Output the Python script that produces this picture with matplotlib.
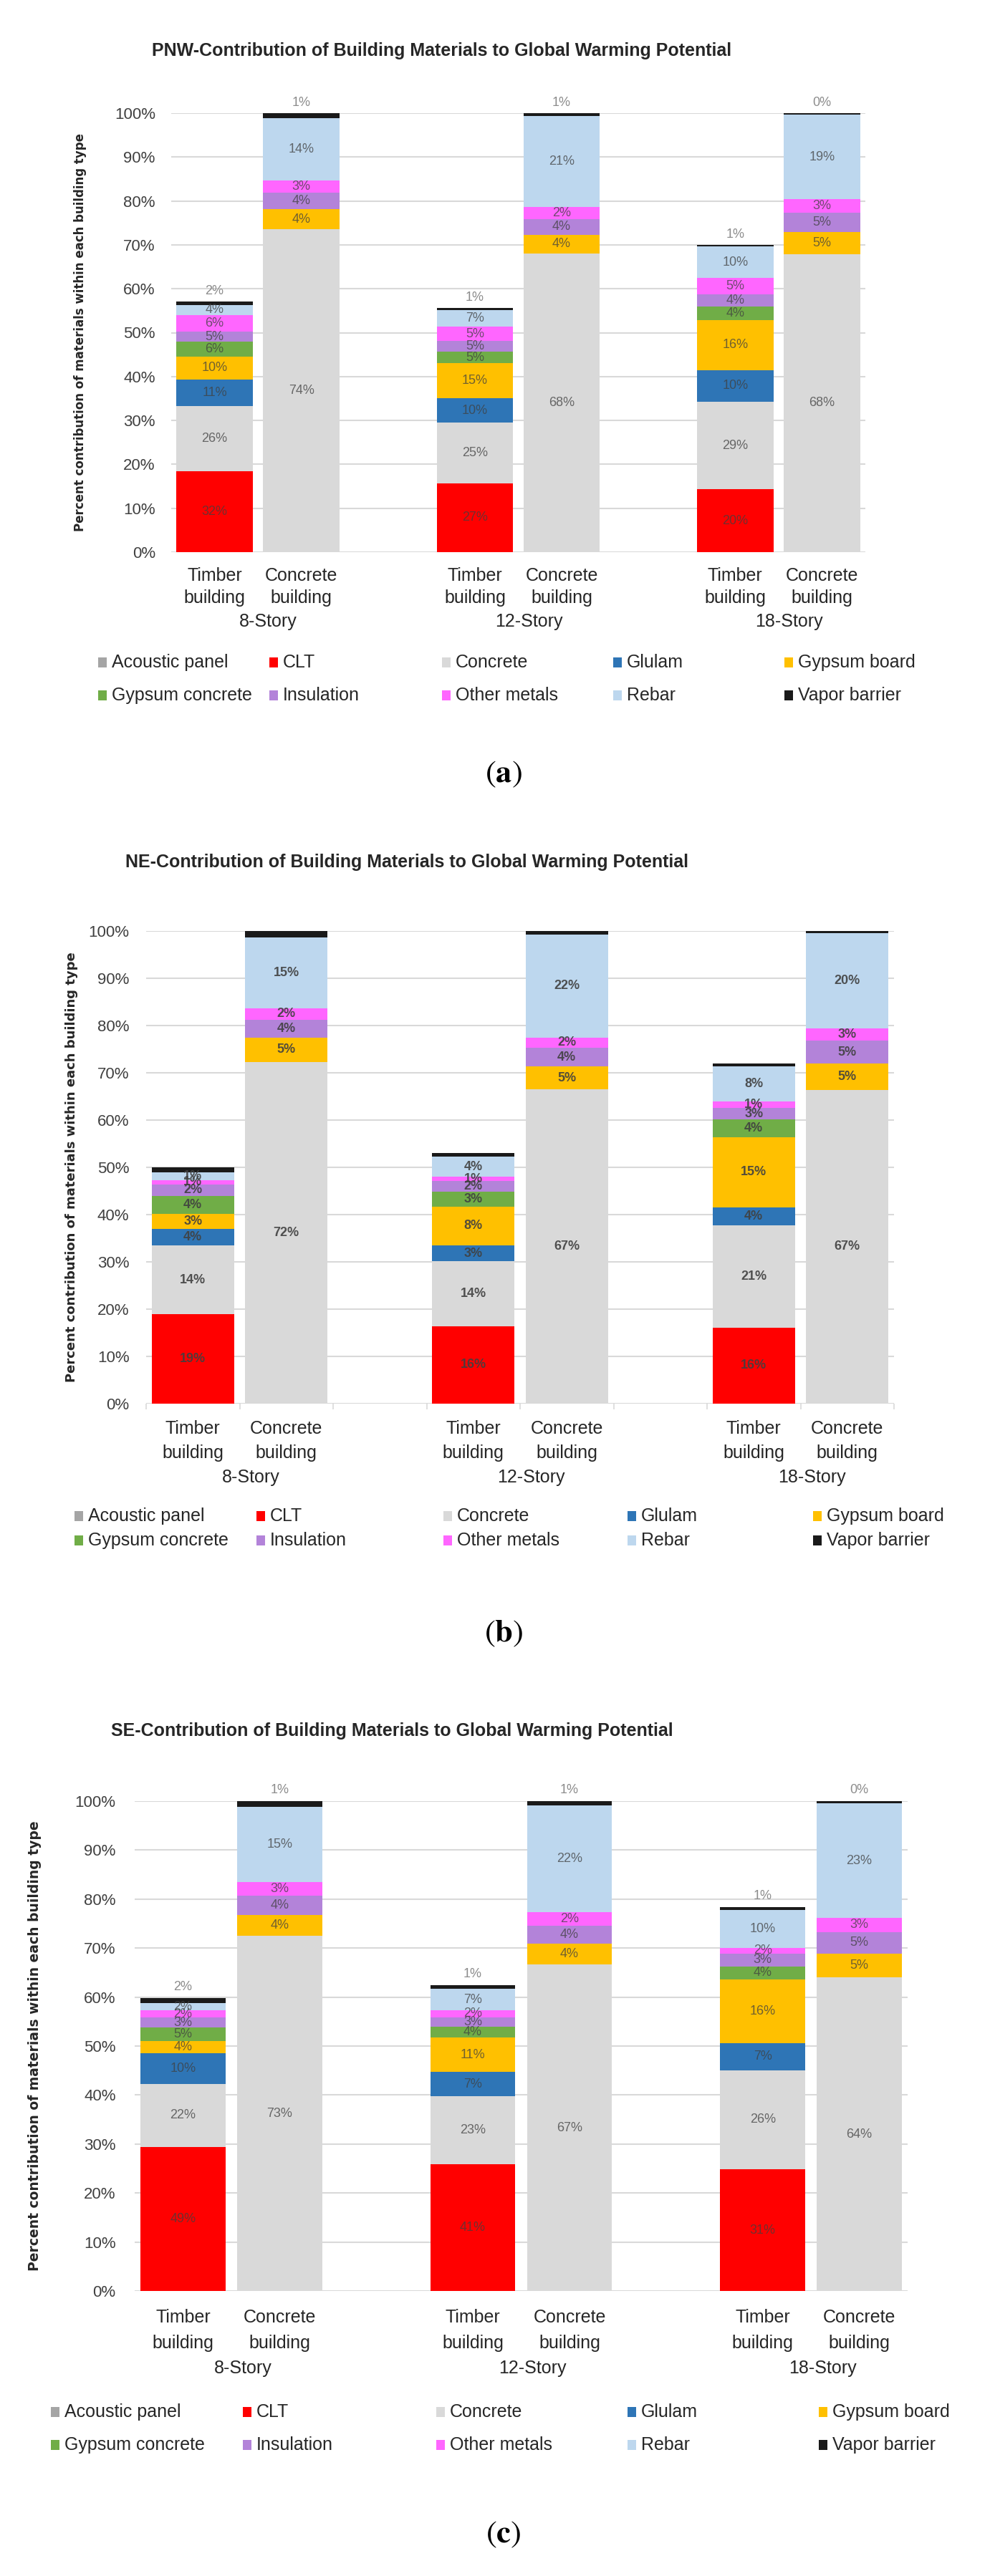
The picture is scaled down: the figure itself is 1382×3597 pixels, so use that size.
import matplotlib
matplotlib.use('Agg')
import matplotlib.pyplot as plt
import matplotlib.transforms as mtransforms
from matplotlib.patches import Rectangle

plt.rcParams['font.family'] = ['Liberation Sans', 'DejaVu Sans']
plt.rcParams['mathtext.fontset'] = 'stix'

W, H = 1382, 3597

materials = ['Acoustic panel', 'CLT', 'Concrete', 'Glulam', 'Gypsum board',
             'Gypsum concrete', 'Insulation', 'Other metals', 'Rebar', 'Vapor barrier']
colors = ['#a5a5a5', '#ff0000', '#d9d9d9', '#2e75b6', '#ffc000',
          '#70ad47', '#b383d9', '#ff66ff', '#bdd7ee', '#1a1a1a']
building_types = ['Timber', 'Concrete'] * 3
stories = ['8-Story', '12-Story', '18-Story']
x_pos = [0, 1, 3, 4, 6, 7]

# bar heights in % (columns: T8, C8, T12, C12, T18, C18), rows follow materials
pnw_values = [
    [0, 0, 0, 0, 0, 0],
    [18.4, 0, 15.7, 0, 14.3, 0],
    [14.8, 73.5, 13.8, 68.1, 19.9, 67.9],
    [6.1, 0, 5.6, 0, 7.3, 0],
    [5.3, 4.6, 8.0, 4.2, 11.4, 5.0],
    [3.3, 0, 2.5, 0, 3.0, 0],
    [2.4, 3.8, 2.5, 3.6, 2.8, 4.4],
    [3.7, 2.8, 3.3, 2.7, 3.7, 3.1],
    [2.3, 14.2, 3.8, 20.7, 7.3, 19.2],
    [0.8, 1.1, 0.5, 0.7, 0.3, 0.4],
]
pnw_labels = [
    [None] * 6,
    [32, None, 27, None, 20, None],
    [26, 74, 25, 68, 29, 68],
    [11, None, 10, None, 10, None],
    [10, 4, 15, 4, 16, 5],
    [6, None, 5, None, 4, None],
    [5, 4, 5, 4, 4, 5],
    [6, 3, 5, 2, 5, 3],
    [4, 14, 7, 21, 10, 19],
    [None] * 6,
]
pnw_top = [2, 1, 1, 1, 1, 0]

ne_values = [
    [0, 0, 0, 0, 0, 0],
    [18.9, 0, 16.4, 0, 16.1, 0],
    [14.6, 72.2, 13.7, 66.5, 21.6, 66.4],
    [3.4, 0, 3.4, 0, 3.8, 0],
    [3.2, 5.3, 8.2, 4.8, 14.9, 5.5],
    [3.9, 0, 3.2, 0, 3.7, 0],
    [2.4, 3.7, 2.2, 4.0, 2.5, 4.9],
    [0.9, 2.5, 0.9, 2.2, 1.3, 2.6],
    [1.7, 15.0, 4.2, 21.7, 7.5, 20.1],
    [1.0, 1.3, 0.9, 0.8, 0.6, 0.5],
]
ne_labels = [
    [None] * 6,
    [19, None, 16, None, 16, None],
    [14, 72, 14, 67, 21, 67],
    [4, None, 3, None, 4, None],
    [3, 5, 8, 5, 15, 5],
    [4, None, 3, None, 4, None],
    [2, 4, 2, 4, 3, 5],
    [1, 2, 1, 2, 1, 3],
    [1, 15, 4, 22, 8, 20],
    [None] * 6,
]

se_values = [
    [0, 0, 0, 0, 0, 0],
    [29.4, 0, 25.9, 0, 24.8, 0],
    [12.9, 72.5, 13.9, 66.6, 20.3, 64.0],
    [6.2, 0, 4.9, 0, 5.5, 0],
    [2.5, 4.3, 7.0, 4.3, 13.0, 4.9],
    [2.8, 0, 2.3, 0, 2.7, 0],
    [2.0, 3.9, 1.9, 3.7, 2.6, 4.4],
    [1.5, 2.8, 1.4, 2.7, 1.1, 2.9],
    [1.4, 15.3, 4.4, 21.8, 7.8, 23.3],
    [1.1, 1.2, 0.7, 0.9, 0.5, 0.5],
]
se_labels = [
    [None] * 6,
    [49, None, 41, None, 31, None],
    [22, 73, 23, 67, 26, 64],
    [10, None, 7, None, 7, None],
    [4, 4, 11, 4, 16, 5],
    [5, None, 4, None, 4, None],
    [3, 4, 3, 4, 3, 5],
    [2, 3, 2, 2, 2, 3],
    [2, 15, 7, 22, 10, 23],
    [None] * 6,
]
se_top = [2, 1, 1, 1, 1, 0]


def fy(px):
    return 1 - px / H


def draw_panel(fig, title, values, labels, top_labels, box, tag, bold=False, seps=False):
    left, top, right, bottom = box['axes']
    ax = fig.add_axes([left / W, fy(bottom), (right - left) / W, (bottom - top) / H])
    base = [0.0] * 6
    for i, row in enumerate(values):
        ax.bar(x_pos, row, width=0.88, bottom=base, color=colors[i], linewidth=0, zorder=2)
        for j in range(6):
            if labels[i][j] is not None:
                ax.text(x_pos[j], base[j] + row[j] / 2, f'{labels[i][j]}%', ha='center', va='center',
                        fontsize=13, color='#404040', alpha=0.75 if not bold else 0.9,
                        fontweight='bold' if bold else 'normal', zorder=3)
        base = [b + v for b, v in zip(base, row)]
    if top_labels:
        for j in range(6):
            ax.text(x_pos[j], base[j] + 2.3, f'{top_labels[j]}%', ha='center', va='center',
                    fontsize=13, color='#8c8c8c')

    ax.set_xlim(-0.5, 7.5)
    ax.set_ylim(0, 100)
    ax.set_yticks(range(0, 101, 10))
    ax.set_yticklabels([f'{v}%' for v in range(0, 101, 10)], fontsize=16, color='#404040')
    ax.tick_params(axis='y', length=0, pad=box['pad'])
    ax.set_xticks([])
    if seps:
        ax.set_xticks([k - 0.5 for k in range(9)], minor=True)
        ax.tick_params(axis='x', which='minor', length=6, width=1.2, color='#d9d9d9')
    ax.grid(axis='y', color='#d9d9d9', linewidth=1.5, zorder=0)
    ax.set_axisbelow(True)
    for s in ax.spines.values():
        s.set_visible(False)

    fig.text(box['title'][0] / W, fy(box['title'][1]), title, ha='left', va='center',
             fontsize=18, fontweight='bold', color='#262626')
    fig.text(box['ylabel_x'] / W, fy((top + bottom) / 2), 'Percent contribution of materials within each building type',
             rotation=90, ha='center', va='center', fontsize=box['ylabel_fs'], fontweight='bold',
             family='DejaVu Sans', color='#262626')

    trans = mtransforms.blended_transform_factory(ax.transData, fig.transFigure)
    for j in range(6):
        ax.text(x_pos[j], fy(box['xl'][0]), building_types[j], transform=trans,
                ha='center', va='center', fontsize=18, color='#262626')
        ax.text(x_pos[j], fy(box['xl'][1]), 'building', transform=trans,
                ha='center', va='center', fontsize=18, color='#262626')
    for g, name in enumerate(stories):
        ax.text(x_pos[2 * g] + 0.62, fy(box['xl'][2]), name, transform=trans,
                ha='center', va='center', fontsize=18, color='#262626')

    for k, name in enumerate(materials):
        lx = box['legend_x'][k % 5]
        ly = box['legend_y'][k // 5]
        fig.add_artist(Rectangle((lx / W, fy(ly + 7)), 12 / W, 14 / H,
                                 transform=fig.transFigure, color=colors[k], linewidth=0))
        fig.text((lx + 19) / W, fy(ly), name, ha='left', va='center', fontsize=18, color='#262626')

    fig.text(703 / W, fy(box['tag_y']), rf'$(\mathbf{{{tag}}})$', ha='center', va='center', fontsize=32)
    return ax


fig = plt.figure(figsize=(W / 100, H / 100), dpi=100)

layout_a = dict(axes=(239, 158, 1208, 771), title=(212, 71), ylabel_x=112, ylabel_fs=12, pad=16,
                xl=(804, 835, 868), legend_x=(137, 376, 617, 856, 1095), legend_y=(925, 971), tag_y=1081)
layout_b = dict(axes=(204, 1300, 1248, 1960), title=(175, 1204), ylabel_x=100, ylabel_fs=13, pad=17,
                xl=(1995, 2029, 2063), legend_x=(104, 358, 619, 876, 1135), legend_y=(2117, 2151), tag_y=2281)
layout_c = dict(axes=(188, 2515, 1267, 3199), title=(155, 2417), ylabel_x=49, ylabel_fs=13.5, pad=19,
                xl=(3236, 3272, 3307), legend_x=(71, 339, 609, 876, 1143), legend_y=(3368, 3414), tag_y=3539)

draw_panel(fig, 'PNW-Contribution of Building Materials to Global Warming Potential',
           pnw_values, pnw_labels, pnw_top, layout_a, 'a')
draw_panel(fig, 'NE-Contribution of Building Materials to Global Warming Potential',
           ne_values, ne_labels, None, layout_b, 'b', bold=True, seps=True)
draw_panel(fig, 'SE-Contribution of Building Materials to Global Warming Potential',
           se_values, se_labels, se_top, layout_c, 'c')

fig.savefig('out.png', dpi=100)
